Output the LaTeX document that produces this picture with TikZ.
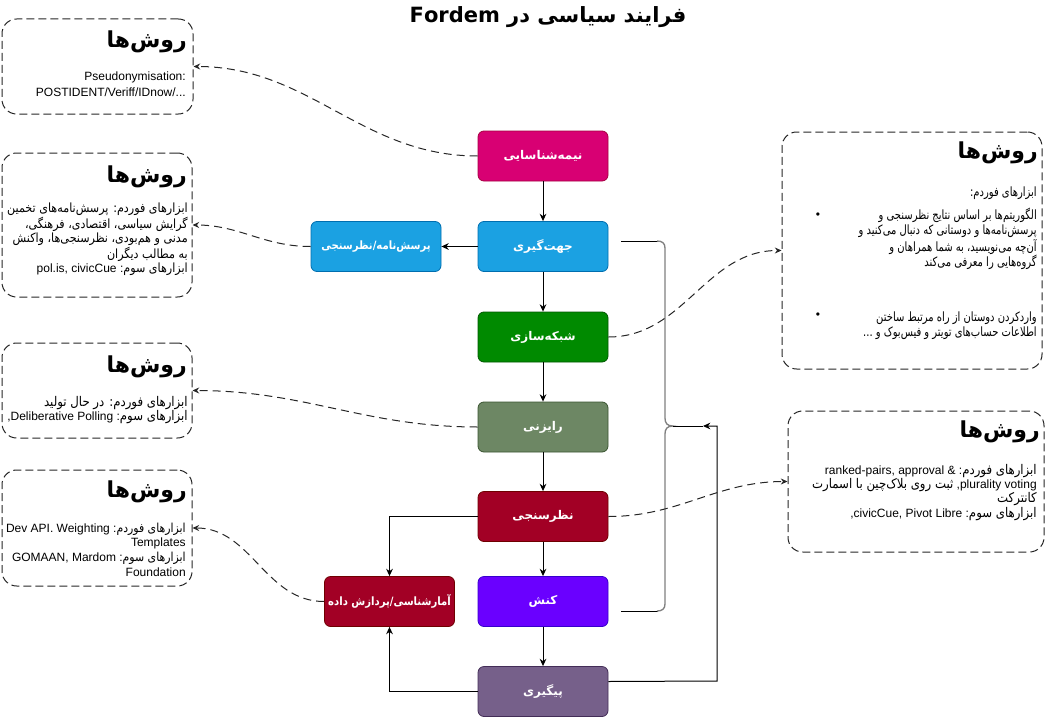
\documentclass[tikz,border=0pt]{standalone}
\usepackage{fontspec}
\setmainfont{Liberation Sans}
\newfontfamily\fa[Script=Arabic]{DejaVu Sans}
\newfontfamily\fab[Script=Arabic,FakeStretch=0.88]{DejaVu Sans}
\newfontfamily\fac[Script=Arabic,FakeStretch=0.78]{DejaVu Sans}
\TeXXeTstate=1
\usetikzlibrary{arrows.meta}
\newcommand\rtl[1]{{\fa\beginR#1\endR}}
\newcommand\rb[2][10]{{\fab\fontsize{#1}{#1}\selectfont\beginR#2\endR}}
\newcommand\rc[1]{{\fac\fontsize{9.6}{9.6}\selectfont\beginR#1\endR}}
\newcommand\rn[1]{{\fab\beginR#1\endR}}
\definecolor{cMag}{HTML}{D80073}\definecolor{sMag}{HTML}{A50040}
\definecolor{cBlue}{HTML}{1BA1E2}\definecolor{sBlue}{HTML}{006EAF}
\definecolor{cGreen}{HTML}{008A00}\definecolor{sGreen}{HTML}{005700}
\definecolor{cOlive}{HTML}{6D8764}\definecolor{sOlive}{HTML}{3A5431}
\definecolor{cRed}{HTML}{A20025}\definecolor{sRed}{HTML}{6F0000}
\definecolor{cViolet}{HTML}{6A00FF}\definecolor{sViolet}{HTML}{3700CC}
\definecolor{cPurple}{HTML}{76608A}\definecolor{sPurple}{HTML}{432D57}
\definecolor{braceGray}{HTML}{808080}
\tikzset{
  proc/.style={rounded corners=4.5pt, minimum width=97.5pt, minimum height=37.5pt,
    inner sep=0pt, line width=0.6pt, text=white, font=\fa\bfseries\fontsize{9}{11}\selectfont},
  mbox/.style={draw=black!85, line width=0.75pt, dash pattern=on 6pt off 3pt, rounded corners=11pt, inner sep=0pt},
  mtitle/.style={anchor=east, inner sep=0pt, font=\fa\bfseries\fontsize{16.5}{18}\selectfont},
  body/.style={anchor=base east, inner sep=0pt, align=right, font=\fontsize{9}{10.5}\selectfont},
  arr/.style={draw=black, line width=0.75pt, -{Stealth[length=5.5pt,width=5pt]}},
  dconn/.style={draw=black!85, line width=0.75pt, dash pattern=on 6pt off 3.75pt, -{Stealth[length=5pt,width=4.5pt]}},
}
\begin{document}
\begin{tikzpicture}[x=0.75pt,y=-0.75pt]
\useasboundingbox (0,0) rectangle (1045,717);
% title
\node[inner sep=0pt, font=\fa\bfseries\fontsize{15.75}{18}\selectfont] (title) at (548,17) {Fordem \rtl{فرایند سیاسی در}};

% process nodes
\node[proc, fill=cMag, draw=sMag] (n1) at (543,156) {\rtl{نیمه‌شناسایی}};
\node[proc, fill=cBlue, draw=sBlue] (n2) at (543,246.5) {\rtl{جهت‌گیری}};
\node[proc, fill=cBlue, draw=sBlue, font=\fab\bfseries\fontsize{8.6}{11}\selectfont] (q) at (376,246.5) {\rn{پرسش‌نامه/نظرسنجی}};
\node[proc, fill=cGreen, draw=sGreen] (n3) at (543,337) {\rtl{شبکه‌سازی}};
\node[proc, fill=cOlive, draw=sOlive] (n4) at (543,427) {\rtl{رایزنی}};
\node[proc, fill=cRed, draw=sRed] (n5) at (543,516.5) {\rtl{نظرسنجی}};
\node[proc, fill=cViolet, draw=sViolet] (n6) at (543,601.5) {\rtl{کنش}};
\node[proc, fill=cPurple, draw=sPurple] (n7) at (543,691.5) {\rtl{پیگیری}};
\node[proc, fill=cRed, draw=sRed, font=\fab\bfseries\fontsize{8.6}{11}\selectfont] (stat) at (389.5,601.5) {\rn{آمارشناسی/پردازش داده}};

% method boxes
\node[mbox, minimum width=143.25pt, minimum height=71.25pt] (m1) at (97.5,66.5) {};
\node[mbox, minimum width=142.5pt, minimum height=108pt] (m2) at (97,225) {};
\node[mbox, minimum width=142.5pt, minimum height=71.25pt] (m3) at (97,390.5) {};
\node[mbox, minimum width=142.5pt, minimum height=87pt] (m4) at (97,528) {};
\node[mbox, minimum width=195pt, minimum height=177.75pt] (m5) at (912,250.5) {};
\node[mbox, minimum width=192pt, minimum height=105.75pt] (m6) at (916,481.5) {};

% box titles
\node[mtitle] (t1) at (187,42) {\rtl{روش‌ها}};
\node[mtitle] (t2) at (187,177) {\rtl{روش‌ها}};
\node[mtitle] (t3) at (187,367) {\rtl{روش‌ها}};
\node[mtitle] (t4) at (187,492) {\rtl{روش‌ها}};
\node[mtitle] (t5) at (1038,153) {\rtl{روش‌ها}};
\node[mtitle] (t6) at (1040,432) {\rtl{روش‌ها}};

% box bodies (anchor = baseline of the last line)
\node[body, font=\fontsize{9}{12.75}\selectfont] (b1) at (186,97) {Pseudonymisation:\\POSTIDENT/Veriff/IDnow/...};
\node[body] (b2) at (188,272) {\rb[9.5]{ابزارهای فوردم: پرسش‌نامه‌های تخمین}\\\rb[9.5]{گرایش سیاسی، اقتصادی، فرهنگی،}\\\rb[9.5]{مدنی و هم‌بودی، نظرسنجی‌ها، واکنش}\\\rb[9.5]{به مطالب دیگران}\\pol.is, civicCue :\rb[9.5]{ابزارهای سوم}};
\node[body] (b3) at (188,420) {\rb{ابزارهای فوردم: در حال تولید}\\,Deliberative Polling :\rb{ابزارهای سوم}};
\node[body, font=\fontsize{9}{11}\selectfont] (b4) at (186,576) {Dev API. Weighting :\rb[9.3]{ابزارهای فوردم}\\Templates\\GOMAAN, Mardom :\rb[9.3]{ابزارهای سوم}\\Foundation};
\node[body] (b5a) at (1037,196) {\rc{ابزارهای فوردم:}};
\node[body, font=\fontsize{9}{11.25}\selectfont] (b5b) at (1037,266) {\rc{الگوریتم‌ها بر اساس نتایج نظرسنجی و}\\\rc{پرسش‌نامه‌ها و دوستانی که دنبال می‌کنید و}\\\rc{آن‌چه می‌نویسید، به شما همراهان و}\\\rc{گروه‌هایی را معرفی می‌کند}};
\node[body, font=\fontsize{9}{11.25}\selectfont] (b5c) at (1037,336) {\rc{واردکردن دوستان از راه مرتبط ساختن}\\\rc{اطلاعات حساب‌های تویتر و فیس‌بوک و ...}};
\node[inner sep=0pt, font=\fontsize{9}{11}\selectfont] (bul1) at (818,216) {•};
\node[inner sep=0pt, font=\fontsize{9}{11}\selectfont] (bul2) at (818,316) {•};
\node[body, font=\fontsize{9}{10.75}\selectfont] (b6) at (1037,517) {ranked-pairs, approval \& :\rb{ابزارهای فوردم}\\\rb{ثبت روی بلاک‌چین با اسمارت} ,plurality voting\\\rb{کانترکت}\\,civicCue, Pivot Libre :\rb{ابزارهای سوم}};

% main flow
\draw[arr] (n1) -- (n2);
\draw[arr] (n2) -- (n3);
\draw[arr] (n3) -- (n4);
\draw[arr] (n4) -- (n5);
\draw[arr] (n5) -- (n6);
\draw[arr] (n6) -- (n7);
\draw[arr] (n2) -- (q);
\draw[arr] (n5.west) -| (stat.north);
\draw[arr] (n7.west) -| (stat.south);

% brace and feedback
\coordinate (bTop) at (621,241);
\coordinate (bBot) at (621,611);
\coordinate (bTip) at (673,426);
\coordinate (aTip) at (703,426);
\draw[black, line width=0.75pt] (bTop) -- (658,241);
\draw[black, line width=0.75pt] (bBot) -- (658,611);
\draw[braceGray, line width=1pt] (657,241) .. controls (662,241) and (665,243) .. (665,248) -- (665,418) .. controls (665,423) and (667,426) .. (bTip) .. controls (667,426) and (665,429) .. (665,434) -- (665,604) .. controls (665,609) and (662,611) .. (657,611);
\draw[black, line width=0.75pt] (bTip) -- (aTip);
\draw[arr] ([yshift=7.5pt]n7.east) -- (717,681) -- (717,426) -- (aTip);

% dashed links
\draw[dconn] (n1.west) to[out=180,in=0] (m1.east);
\draw[dconn] (q.west) to[out=180,in=0] (m2.east);
\draw[dconn] (n4.west) to[out=180,in=0] (m3.east);
\draw[dconn] (stat.west) to[out=180,in=0] (m4.east);
\draw[dconn] (n3.east) to[out=0,in=180] (m5.west);
\draw[dconn] (n5.east) to[out=0,in=180] (m6.west);
\end{tikzpicture}
\end{document}
